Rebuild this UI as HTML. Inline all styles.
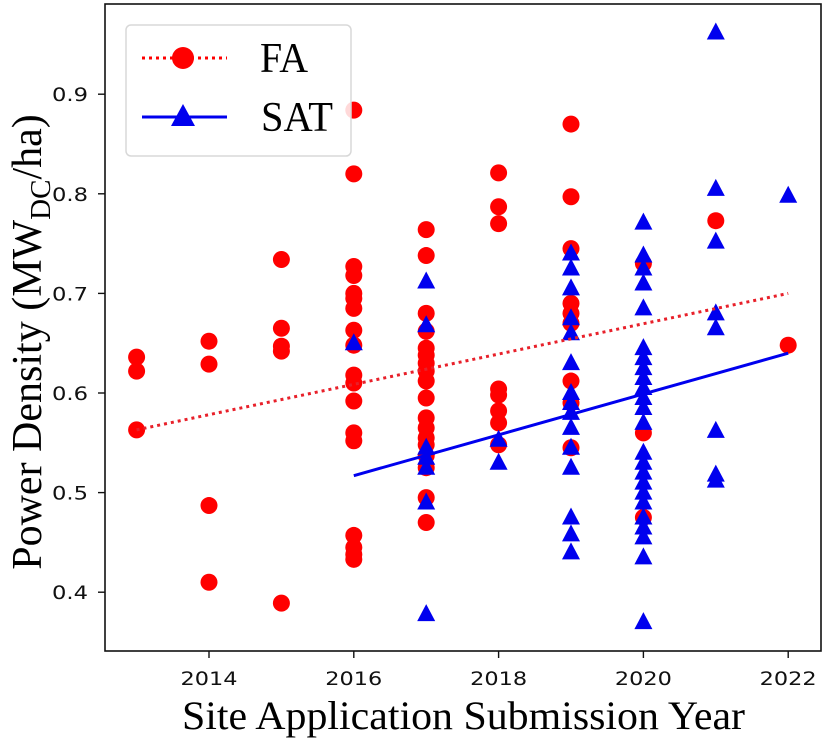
<!DOCTYPE html>
<html><head><meta charset="utf-8"><style>
html,body{margin:0;padding:0;background:#fff;}
svg text{font-family:"DejaVu Sans","Liberation Sans",sans-serif;}
</style></head><body>
<svg id="chart" width="825" height="742" xmlns="http://www.w3.org/2000/svg">
<g id="marks"></g>
<g id="axes"></g>
<g id="legend">
  <rect x="126" y="25" width="225" height="131" rx="5" fill="#fff" fill-opacity="0.85" stroke="#d8d8d8" stroke-width="1.5"/>
  <g>
    <line x1="142" y1="58" x2="227" y2="58" stroke="#ff0000" stroke-width="3" stroke-dasharray="3,4"/>
    <circle cx="183" cy="58" r="11" fill="#ff0000"/>
    <text x="260" y="72" font-size="42" textLength="48" lengthAdjust="spacingAndGlyphs" style="font-family:'Liberation Serif',serif">FA</text>
  </g>
  <g>
    <line x1="142" y1="117" x2="227" y2="117" stroke="#0000ee" stroke-width="3"/>
    <polygon points="183,104 195,126 171,126" fill="#0000ee"/>
    <text x="261" y="131" font-size="42" textLength="72" lengthAdjust="spacingAndGlyphs" style="font-family:'Liberation Serif',serif">SAT</text>
  </g>
</g>
</svg>
<script>
const faYears=[2013,2013,2013,2014,2014,2014,2014,2015,2015,2015,2015,2015,
2016,2016,2016,2016,2016,2016,2016,2016,2016,2016,2016,2016,2016,2016,2016,2016,2016,2016,
2017,2017,2017,2017,2017,2017,2017,2017,2017,2017,2017,2017,2017,2017,2017,2017,2017,2017,
2018,2018,2018,2018,2018,2018,2018,2018,
2019,2019,2019,2019,2019,2019,2019,2019,2019,
2020,2020,2020,2021,2022];
const faValues=[0.636,0.622,0.563,0.652,0.629,0.487,0.410,0.734,0.665,0.647,0.642,0.389,
0.884,0.820,0.727,0.718,0.700,0.695,0.685,0.663,0.648,0.618,0.610,0.592,0.560,0.552,0.457,0.445,0.438,0.433,
0.764,0.738,0.680,0.662,0.645,0.638,0.630,0.622,0.612,0.595,0.575,0.565,0.555,0.548,0.537,0.525,0.495,0.470,
0.821,0.787,0.770,0.604,0.598,0.582,0.570,0.548,
0.870,0.797,0.745,0.690,0.680,0.670,0.612,0.590,0.545,
0.730,0.560,0.475,0.773,0.648];
const satYears=[2016,2017,2017,2017,2017,2017,2017,2017,2018,2018,
2019,2019,2019,2019,2019,2019,2019,2019,2019,2019,2019,2019,2019,2019,2019,
2020,2020,2020,2020,2020,2020,2020,2020,2020,2020,2020,2020,2020,2020,2020,2020,2020,2020,2020,2020,2020,2020,2020,2020,
2021,2021,2021,2021,2021,2021,2021,2021,2022];
const satValues=[0.650,0.712,0.668,0.545,0.535,0.525,0.490,0.378,0.553,0.530,
0.740,0.725,0.705,0.675,0.660,0.630,0.600,0.590,0.580,0.565,0.545,0.525,0.475,0.458,0.440,
0.771,0.738,0.725,0.710,0.685,0.645,0.635,0.625,0.615,0.605,0.595,0.585,0.570,0.540,0.530,0.520,0.510,0.500,0.490,0.475,0.465,0.455,0.435,0.370,
0.962,0.805,0.752,0.680,0.665,0.562,0.518,0.512,0.798];
const faTrendYears=[2013,2022];
const faTrendValues=[0.563,0.700];
const satTrendYears=[2016,2022];
const satTrendValues=[0.517,0.640];
const xTicks=[2014,2016,2018,2020,2022];
const yTicks=[0.4,0.5,0.6,0.7,0.8,0.9];

const L=105,R=821,T=4,B=651;
const x=v=>209+(v-2014)*72.4;
const y=v=>393-(v-0.6)*996;
const NS="http://www.w3.org/2000/svg";
const marks=document.getElementById('marks');
const axes=document.getElementById('axes');
function mk(tag,attrs,parent){const e=document.createElementNS(NS,tag);for(const k in attrs)e.setAttribute(k,attrs[k]);parent.appendChild(e);return e;}

faYears.forEach((yr,i)=>{
  const c=mk('circle',{cx:x(yr),cy:y(faValues[i]),r:8.5,fill:'#ff0000'},marks);
  
  
});
satYears.forEach((yr,i)=>{
  const cx=x(yr),cy=y(satValues[i]);
  const p=mk('polygon',{points:`${cx},${cy-10} ${cx+9},${cy+7} ${cx-9},${cy+7}`,fill:'#0000ee'},marks);
  
  
});
const lf=mk('line',{x1:x(faTrendYears[0]),y1:y(faTrendValues[0]),x2:x(faTrendYears[1]),y2:y(faTrendValues[1]),stroke:'#e8202a',"stroke-width":3,"stroke-dasharray":"3,4"},marks);


const ls=mk('line',{x1:x(satTrendYears[0]),y1:y(satTrendValues[0]),x2:x(satTrendYears[1]),y2:y(satTrendValues[1]),stroke:'#0000ee',"stroke-width":3},marks);



const fr=mk('rect',{x:L,y:T,width:R-L,height:B-T,fill:'none',stroke:'#111','stroke-width':1.6},axes);


xTicks.forEach(t=>{
  mk('line',{x1:x(t),y1:B,x2:x(t),y2:B+7,stroke:'#111','stroke-width':1.4},axes);
  const tx=mk('text',{x:x(t)-28.5,y:B+34,'font-size':19,textLength:57,lengthAdjust:'spacingAndGlyphs',fill:'#111'},axes);
  tx.textContent=t;
  
  
});
yTicks.forEach(t=>{
  mk('line',{x1:L-7,y1:y(t),x2:L,y2:y(t),stroke:'#111','stroke-width':1.4},axes);
  const tx=mk('text',{x:L-53,y:y(t)+7,'font-size':19,textLength:36,lengthAdjust:'spacingAndGlyphs',fill:'#111'},axes);
  tx.textContent=t.toFixed(1);
  
  
});
const xt=mk('text',{x:182,y:729,'font-size':40,textLength:563,lengthAdjust:'spacingAndGlyphs',style:"font-family:'Liberation Serif',serif"},axes);
xt.textContent='Site Application Submission Year';


const yt=mk('text',{x:0,y:0,'font-size':42,'text-anchor':'middle',transform:'translate(41,342) rotate(-90)',style:"font-family:'Liberation Serif',serif"},axes);
yt.innerHTML='Power Density (MW<tspan font-size="29" dy="9">DC</tspan><tspan dy="-9">/ha)</tspan>';


</script>
</body></html>
